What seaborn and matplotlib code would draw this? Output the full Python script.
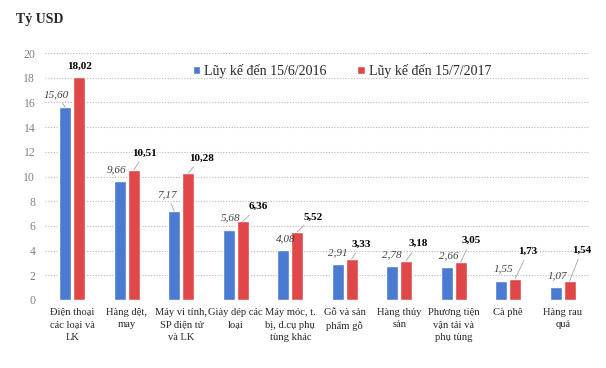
import numpy as np
import pandas as pd
import matplotlib.pyplot as plt
import seaborn as sns

categories = ["Điện thoại\ncác loại và\nLK", "Hàng dệt,\nmay", "Máy vi tính,\nSP điện tử\nvà LK",
              "Giày dép các\nloại", "Máy móc, t.\nbị, d.cụ phụ\ntùng khác", "Gỗ và sản\nphẩm gỗ",
              "Hàng thủy\nsản", "Phương tiện\nvận tải và\nphụ tùng", "Cà phê", "Hàng rau\nquả"]
v2016 = [15.60, 9.66, 7.17, 5.68, 4.08, 2.91, 2.78, 2.66, 1.55, 1.07]
v2017 = [18.02, 10.51, 10.28, 6.36, 5.52, 3.33, 3.18, 3.05, 1.73, 1.54]
series = ["Lũy kế đến 15/6/2016", "Lũy kế đến 15/7/2017"]

# label placement (pixel offsets from bar top), as in the source chart
off2016 = [(-9, 13), (-3, 11), (-7, 17), (2, 12), (2, 11), (0, 11), (0, 11), (2, 11), (2, 12), (2, 11)]
off2017 = [(0, 11), (11, 17), (13, 15), (16, 15), (16, 15), (10, 15), (12, 17), (10, 22), (13, 27), (12, 31)]

df = pd.DataFrame({
    "cat": categories * 2,
    "val": v2016 + v2017,
    "series": [series[0]] * len(categories) + [series[1]] * len(categories),
})

sns.set_style("white")
plt.rcParams['font.family'] = ['Liberation Serif', 'DejaVu Serif']

fig = plt.figure(figsize=(6.06, 3.68), dpi=100)
ax = fig.add_axes([45 / 606, 68 / 368, 545 / 606, 247 / 368])
sns.barplot(data=df, x="cat", y="val", hue="series", palette=["#4a7bd0", "#df4749"],
            width=0.51, gap=0.14, ax=ax, saturation=1)

ax.set_ylim(0, 20)
ax.set_yticks(range(0, 21, 2))
ax.tick_params(axis="y", labelsize=8.5, labelcolor="#808080", length=0, pad=7)
ax.tick_params(axis="x", labelsize=7.6, length=0, pad=6)
for t in ax.get_xticklabels():
    t.set_linespacing(1.45)
ax.yaxis.grid(True, linestyle=(0, (1, 1.5)), color="#b5b5b5", linewidth=0.8)
ax.set_axisbelow(True)
for s in ax.spines.values():
    s.set_visible(False)
ax.set_xlabel("")
ax.set_ylabel("")
ax.set_xlim(-0.5, 9.5)

line = dict(arrowstyle="-", color="#a6a6a6", lw=0.6, shrinkA=1, shrinkB=0)
for c, (dx, dy) in zip(ax.containers[0], off2016):
    ax.annotate(f"{c.get_height():.2f}".replace(".", ","),
                (c.get_x() + c.get_width() / 2, c.get_height()), xytext=(dx, dy),
                textcoords="offset pixels", ha="center", va="center", fontsize=8,
                style="italic", color="#404040",
                arrowprops=line if abs(dx) > 5 or dy > 14 else None)
for c, (dx, dy) in zip(ax.containers[1], off2017):
    ax.annotate(f"{c.get_height():.2f}".replace(".", ","),
                (c.get_x() + c.get_width() / 2, c.get_height()), xytext=(dx, dy),
                textcoords="offset pixels", ha="center", va="center", fontsize=8,
                fontweight="bold", color="black",
                arrowprops=line if abs(dx) > 5 or dy > 14 else None)

ax.legend(loc="center", bbox_to_anchor=(0.545, 0.927), ncol=2, frameon=False,
          fontsize=10, handlelength=0.55, handleheight=0.55, handletextpad=0.3,
          columnspacing=2.2)

fig.text(16 / 606, 1 - 20 / 368, "Tỷ USD", fontsize=10, fontweight="bold", va="center")

fig.savefig("out.png", dpi=100)
